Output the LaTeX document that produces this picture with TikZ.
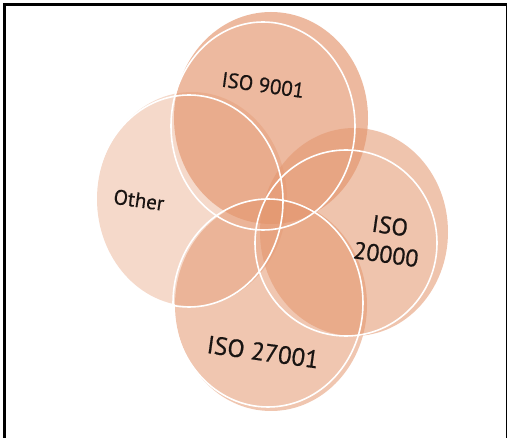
\documentclass[tikz,border=0pt]{standalone}
\usepackage{fontspec}
\setmainfont{PT Sans}
\newfontfamily\lblfont{PT Sans}[FakeBold=0.6]
\definecolor{peach}{RGB}{228,150,110}
\definecolor{ink}{RGB}{25,20,18}
\begin{document}
\begin{tikzpicture}[x=1pt,y=-1pt,
  ring/.style={draw=white, line width=1.6pt},
  lbl/.style={text=ink, rotate=-8, align=center, inner sep=0pt, font=\lblfont\fontsize{21}{24}\selectfont}]
\useasboundingbox (0,0) rectangle (507,438);
\fill[white] (0,0) rectangle (507,438);
\draw[line width=2.5pt] (4.3,438) -- (4.3,4.3) -- (507,4.3);
\draw[line width=1pt] (506,4.3) -- (506,438);
% fills, then the white rings on top
\fill[peach, fill opacity=.36] (192,199) ellipse [x radius=95pt, y radius=107pt];
\fill[peach, fill opacity=.66] (271,118) ellipse [x radius=97pt, y radius=106pt];
\fill[peach, fill opacity=.56] (354,232) ellipse [x radius=94pt, y radius=104pt];
\fill[peach, fill opacity=.54] (271,305) ellipse [x radius=96pt, y radius=106pt];
\draw[ring] (189,201) ellipse [x radius=94pt, y radius=106pt];
\draw[ring] (263,126) ellipse [x radius=92pt, y radius=104pt];
\draw[ring] (346,243) ellipse [x radius=91pt, y radius=93pt];
\draw[ring] (268,303) ellipse [x radius=95pt, y radius=104pt];
\node[lbl] (iso9001) at (263,85) {ISO 9001};
\node[lbl] (other) at (139,200) {Other};
\node[lbl, font=\lblfont\fontsize{24}{29}\selectfont] (iso20000) at (388,240) {ISO\\20000};
\node[lbl, font=\lblfont\fontsize{25}{29}\selectfont] (iso27001) at (263,352) {ISO 27001};
\end{tikzpicture}
\end{document}
